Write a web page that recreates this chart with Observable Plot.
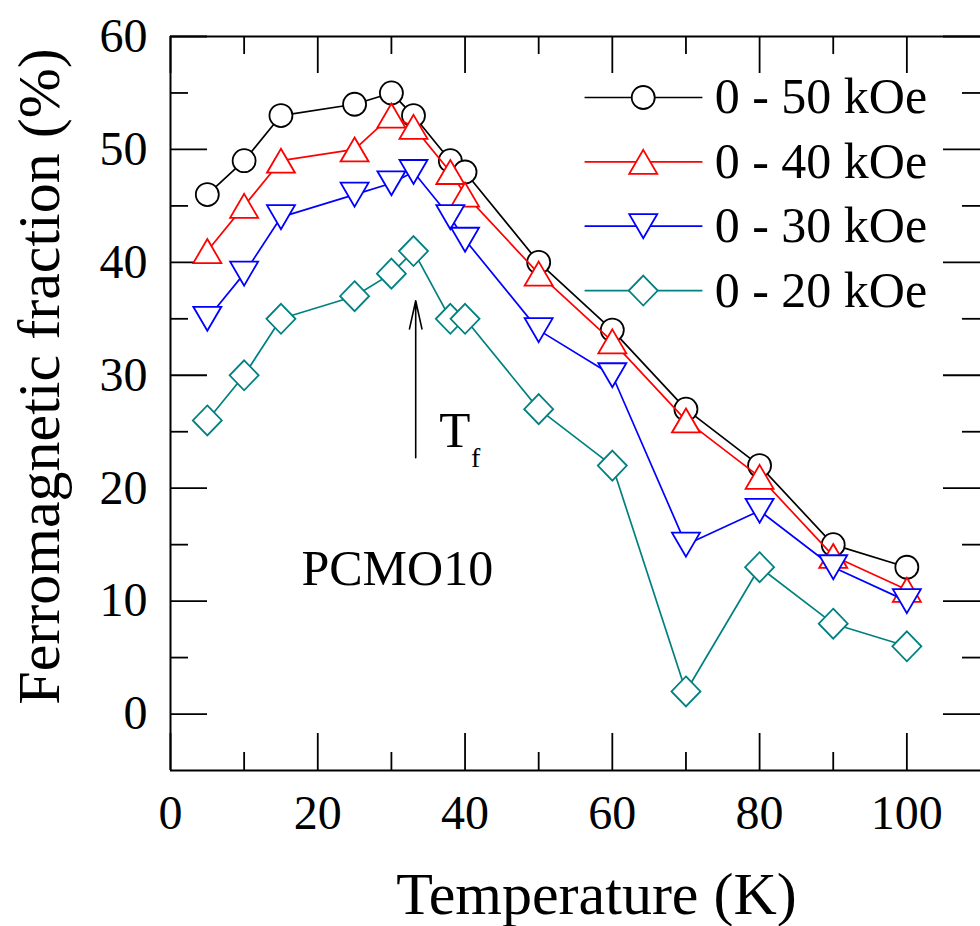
<!DOCTYPE html>
<html><head><meta charset="utf-8">
<script src="https://cdn.jsdelivr.net/npm/d3@7"></script>
<script src="https://cdn.jsdelivr.net/npm/@observablehq/plot@0.6"></script>
<style>body{margin:0;background:#fff}</style>
</head><body><div id="chart"></div>
<script>
// ---- data ----
const temperature = [5, 10, 15, 25, 30, 33, 38, 40, 50, 60, 70, 80, 90, 100];
const frac50 = [46, 49, 53, 54, 55, 53, 49, 48, 40, 34, 27, 22, 15, 13];
const frac40 = [41, 45, 49, 50, 53, 52, 48, 46, 39, 33, 26, 21, 14, 11];
const frac30 = [35, 39, 44, 46, 47, 48, 44, 42, 34, 30, 15, 18, 13, 10];
const frac20 = [26, 30, 35, 37, 39, 41, 35, 35, 27, 22, 2, 13, 8, 6];
const seriesNames = ["0 - 50 kOe", "0 - 40 kOe", "0 - 30 kOe", "0 - 20 kOe"];
const xMajorTicks = [0, 20, 40, 60, 80, 100];
const xMinorTicks = [10, 30, 50, 70, 90];
const yMajorTicks = [0, 10, 20, 30, 40, 50, 60];
const yMinorTicks = [5, 15, 25, 35, 45, 55];
const sampleLabel = "PCMO10";
const tfLabel = "T";
const tfSub = "f";
const tfArrow = [{x: 33.3, y1: 22.7, y2: 36.6}];

// ---- styles ----
const colors = ["#000000", "#ff0000", "#0000ff", "#008080"];
const FONT = "'Liberation Serif', 'Times New Roman', serif";
const symCircle = {draw(c) { c.moveTo(11.5, 0); c.arc(0, 0, 11.5, 0, 2 * Math.PI); c.closePath(); }};
const symUp = {draw(c) { c.moveTo(0, -12); c.lineTo(14, 12); c.lineTo(-14, 12); c.closePath(); }};
const symDown = {draw(c) { c.moveTo(0, 12); c.lineTo(14, -12); c.lineTo(-14, -12); c.closePath(); }};
const symDiamond = {draw(c) { c.moveTo(0, -15); c.lineTo(14.5, 0); c.lineTo(0, 15); c.lineTo(-14.5, 0); c.closePath(); }};
const symbols = [symCircle, symUp, symDown, symDiamond];

const allSeries = [frac50, frac40, frac30, frac20].map((vals, i) => ({
  name: seriesNames[i], color: colors[i], symbol: symbols[i],
  data: temperature.map((t, j) => ({t, v: vals[j]}))
}));

const W = 980, H = 926, ML = 170, MR = 0, MT = 36, MB = 156;
const plotW = W - ML - MR, plotH = H - MT - MB;
const majorLen = 37, minorLen = 18;

const marks = [];
// frame (left, top, bottom)
marks.push(Plot.ruleX([0], {stroke: "black", strokeWidth: 2}));
marks.push(Plot.ruleY([-5, 60], {stroke: "black", strokeWidth: 2}));
// inward ticks
const tk = {stroke: "black", strokeWidth: 1.8};
marks.push(Plot.tickX(xMajorTicks, {x: d => d, insetTop: plotH - majorLen, ...tk}));
marks.push(Plot.tickX(xMinorTicks, {x: d => d, insetTop: plotH - minorLen, ...tk}));
marks.push(Plot.tickX(xMajorTicks, {x: d => d, insetBottom: plotH - majorLen, ...tk}));
marks.push(Plot.tickX(xMinorTicks, {x: d => d, insetBottom: plotH - minorLen, ...tk}));
marks.push(Plot.tickY(yMajorTicks, {y: d => d, insetRight: plotW - majorLen, ...tk}));
marks.push(Plot.tickY(yMinorTicks, {y: d => d, insetRight: plotW - minorLen, ...tk}));
marks.push(Plot.tickY(yMajorTicks, {y: d => d, insetLeft: plotW - majorLen, ...tk}));
marks.push(Plot.tickY(yMinorTicks, {y: d => d, insetLeft: plotW - minorLen, ...tk}));
// tick labels
marks.push(Plot.axisX(xMajorTicks, {anchor: "bottom", tickSize: 0, tickPadding: 24, fontSize: 48, fontFamily: FONT, label: null, fill: "black"}));
marks.push(Plot.axisY(yMajorTicks, {anchor: "left", tickSize: 0, tickPadding: 23, fontSize: 48, fontFamily: FONT, label: null, fill: "black"}));
// axis titles
marks.push(Plot.text(["Temperature (K)"], {frameAnchor: "bottom", text: d => d, dx: 21, dy: 124, fontSize: 60, fontFamily: FONT, textAnchor: "middle", lineAnchor: "middle", fill: "black"}));
marks.push(Plot.text(["Ferromagnetic fraction (%)"], {frameAnchor: "left", text: d => d, rotate: -90, dx: -131, dy: -27, fontSize: 60, fontFamily: FONT, textAnchor: "middle", lineAnchor: "middle", fill: "black"}));

// series
for (const s of allSeries) {
  marks.push(Plot.line(s.data, {x: "t", y: "v", stroke: s.color, strokeWidth: 1.7}));
  marks.push(Plot.dot(s.data, {x: "t", y: "v", symbol: s.symbol, r: 12, fill: "white", stroke: s.color, strokeWidth: 1.8}));
}

// annotations
marks.push(Plot.arrow(tfArrow, {x1: "x", x2: "x", y1: "y1", y2: "y2", stroke: "black", strokeWidth: 1.6, headLength: 27, headAngle: 25}));
marks.push(Plot.text([tfLabel], {x: 36.5, y: 25.1, text: d => d, fontSize: 51, fontFamily: FONT, textAnchor: "start", lineAnchor: "middle", fill: "black"}));
marks.push(Plot.text([tfSub], {x: 40.8, y: 22.65, text: d => d, fontSize: 28, fontFamily: FONT, textAnchor: "start", lineAnchor: "middle", fill: "black"}));
marks.push(Plot.text([sampleLabel], {x: 30.8, y: 12.85, text: d => d, fontSize: 50, fontFamily: FONT, textAnchor: "middle", lineAnchor: "middle", fill: "black"}));

// legend (inside plot, top right)
const legX1 = 56.3, legX2 = 72.3, legXm = 64.2, legXt = 73.9, legTop = 54.6, legStep = 5.7;
const legend = allSeries.map((s, i) => ({name: s.name, color: s.color, symbol: s.symbol, y: legTop - i * legStep}));
for (const L of legend) {
  marks.push(Plot.ruleY([L], {y: "y", x1: legX1, x2: legX2, stroke: L.color, strokeWidth: 1.7}));
  marks.push(Plot.dot([L], {x: legXm, y: "y", symbol: L.symbol, r: 12, fill: "white", stroke: L.color, strokeWidth: 1.8}));
}
marks.push(Plot.text(legend, {x: legXt, y: "y", text: "name", fontSize: 50, fontFamily: FONT, textAnchor: "start", lineAnchor: "middle", fill: "black"}));

const chart = Plot.plot({
  width: W, height: H,
  marginLeft: ML, marginRight: MR, marginTop: MT, marginBottom: MB,
  style: {fontFamily: FONT, background: "white", color: "black", overflow: "visible"},
  x: {domain: [0, 110], axis: null},
  y: {domain: [-5, 60], axis: null},
  marks
});
document.getElementById("chart").appendChild(chart);
</script>
</body></html>
